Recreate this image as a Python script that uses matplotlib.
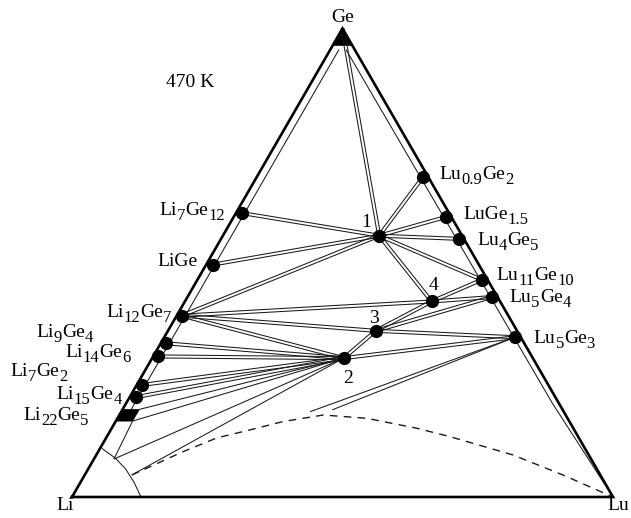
import re
import numpy as np
import matplotlib.pyplot as plt

plt.rcParams['font.family'] = ['Liberation Serif', 'DejaVu Serif']

# Li-Lu-Ge isothermal section at 470 K
# compositions as atomic fractions of Lu and Ge (Li = rest)
phase_names = ['Ge', 'Li7Ge12', 'LiGe', 'Li12Ge7', 'Li9Ge4', 'Li14Ge6', 'Li7Ge2', 'Li15Ge4',
               'Lu0.9Ge2', 'LuGe1.5', 'Lu4Ge5', 'Lu11Ge10', 'Lu5Ge4', 'Lu5Ge3',
               '1', '2', '3', '4']
phase_lu = [0.0, 0.011, 0.012, 0.009, 0.010, 0.0095, 0.009, 0.011,
            0.307, 0.393, 0.440, 0.5255, 0.5624, 0.648,
            0.289, 0.354, 0.384, 0.456]
phase_ge = [1.0, 0.606, 0.496, 0.387, 0.328, 0.300, 0.239, 0.213,
            0.682, 0.598, 0.551, 0.4637, 0.4267, 0.341,
            0.5577, 0.2964, 0.3547, 0.4173]

# Li22Ge5 homogeneity range (drawn as a filled block)
li22ge5_lu = [0.0, 0.031, 0.031, 0.0]
li22ge5_ge = [0.162, 0.162, 0.187, 0.187]

# extra end points of single tie lines
extra_names = ['Li22Ge5 top', 'Li22Ge5 bottom', 'arc A', 'arc B', 'curve A', 'curve B']
extra_lu = [0.031, 0.031, 0.037, 0.087, 0.349, 0.388]
extra_ge = [0.187, 0.162, 0.081, 0.047, 0.182, 0.186]

# two-phase fields drawn as double lines
double_ties = [('Ge', '1'), ('1', 'Lu0.9Ge2'), ('1', 'LuGe1.5'), ('1', 'Lu4Ge5'),
               ('1', 'Lu11Ge10'), ('1', '4'), ('1', 'Li7Ge12'), ('1', 'LiGe'),
               ('1', 'Li12Ge7'), ('4', 'Lu11Ge10'), ('4', 'Lu5Ge4'), ('4', '3'),
               ('4', 'Li12Ge7'), ('3', 'Lu5Ge4'), ('3', 'Lu5Ge3'), ('3', '2'),
               ('3', 'Li12Ge7'), ('2', 'Lu5Ge3'), ('2', 'Li12Ge7'), ('2', 'Li9Ge4'),
               ('2', 'Li14Ge6'), ('2', 'Li7Ge2'), ('2', 'Li15Ge4')]
single_ties = [('2', 'Li22Ge5 top'), ('2', 'Li22Ge5 bottom'), ('2', 'arc A'), ('2', 'arc B'),
               ('Lu5Ge3', 'curve A'), ('Lu5Ge3', 'curve B')]

# solubility lines along the binary edges
left_inner_lu = [0.016, 0.016]
left_inner_ge = [0.955, 0.187]
left_low_lu = [0.031, 0.037]
left_low_ge = [0.162, 0.081]
right_inner_lu = [0.029, 0.788, 1.0]
right_inner_ge = [0.955, 0.200, 0.0]

# boundary of the Li solid solution
arc_lu = [0.003, 0.039, 0.069, 0.099, 0.1275]
arc_ge = [0.104, 0.0827, 0.060, 0.0314, 0.0]

# dashed boundary
dash_lu = [0.087, 0.112, 0.157, 0.2045, 0.2574, 0.3095, 0.377, 0.4606, 0.5638,
           0.6343, 0.7703, 0.884, 0.995]
dash_ge = [0.047, 0.0647, 0.0968, 0.126, 0.1432, 0.161, 0.175, 0.168, 0.1468,
           0.1288, 0.0897, 0.047, 0.002]

# apex region of Ge
ge_tip_lu = [0.0, 0.0, 0.037]
ge_tip_ge = [1.0, 0.963, 0.963]

# label offsets in pixels from the point (x right, y up of the baseline), and alignment
label_pos = {
    'Li7Ge12': (-17, -2, 'right'), 'LiGe': (-15, -1, 'right'),
    'Li12Ge7': (-10, -1, 'right'), 'Li9Ge4': (-73, 6, 'right'),
    'Li14Ge6': (-28, -1, 'right'), 'Li7Ge2': (-74, 9, 'right'),
    'Li15Ge4': (-14, -2, 'right'),
    'Lu0.9Ge2': (17, -2, 'left'), 'LuGe1.5': (17, -2, 'left'),
    'Lu4Ge5': (18, -6, 'left'), 'Lu11Ge10': (15, 0, 'left'),
    'Lu5Ge4': (18, -5, 'left'), 'Lu5Ge3': (19, -6, 'left'),
    '1': (-13, 9, 'center'), '2': (4, -25, 'center'),
    '3': (-2, 8, 'center'), '4': (2, 11, 'center'),
}

H = np.sqrt(3) / 2


def tern(lu, ge):
    lu = np.asarray(lu, float)
    ge = np.asarray(ge, float)
    return lu + ge / 2, ge * H


pts = {n: tern(a, b) for n, a, b in zip(phase_names, phase_lu, phase_ge)}
pts.update({n: tern(a, b) for n, a, b in zip(extra_names, extra_lu, extra_ge)})

fig = plt.figure(figsize=(6.31, 5.18), dpi=100)
ax = fig.add_axes([0, 0, 1, 1])
ax.set_xlim(-72 / 541, 559 / 541)
ax.set_ylim(-21 / 541, 497 / 541)
ax.set_aspect('equal')
ax.axis('off')
renderer = fig.canvas.get_renderer()

fs = 14
sub_fs = 12
sub_drop = 5


def chem_label(name, xy, dx, dy, ha):
    # formula text with lowered digits, built piece by piece
    if name.isdigit():
        parts = [(name, False)]
    else:
        parts = [(m.group(0), m.group(0)[0].isdigit() or m.group(0)[0] == '.')
                 for m in re.finditer(r'[A-Za-z]+|[0-9.]+', name)]
    widths = []
    for s, sub in parts:
        t = ax.text(0, 0, s, fontsize=sub_fs if sub else fs)
        widths.append(t.get_window_extent(renderer).width)
        t.remove()
    total = sum(widths)
    x = dx - {'left': 0, 'right': total, 'center': total / 2}[ha]
    for (s, sub), w in zip(parts, widths):
        ax.annotate(s, xy, xytext=(x, dy - (sub_drop if sub else 0)),
                    textcoords='offset pixels', ha='left', va='baseline',
                    fontsize=sub_fs if sub else fs)
        x += w


thin = dict(color='0.1', lw=0.75, solid_capstyle='butt')
gap = 1.5 / 541

for a, b in double_ties:
    (x0, y0), (x1, y1) = pts[a], pts[b]
    d = np.hypot(x1 - x0, y1 - y0)
    nx, ny = -(y1 - y0) / d * gap, (x1 - x0) / d * gap
    for s in (-1, 1):
        ax.plot([x0 + s * nx, x1 + s * nx], [y0 + s * ny, y1 + s * ny], **thin)

for a, b in single_ties:
    (x0, y0), (x1, y1) = pts[a], pts[b]
    ax.plot([x0, x1], [y0, y1], **thin)

ax.plot(*tern(left_inner_lu, left_inner_ge), **thin)
ax.plot(*tern(left_low_lu, left_low_ge), **thin)
ax.plot(*tern(right_inner_lu, right_inner_ge), **thin)
ax.plot(*tern(arc_lu, arc_ge), **thin)
ax.plot(*tern(dash_lu, dash_ge), color='0.1', lw=1.0, ls=(0, (5.5, 4.5)))

# frame
fx, fy = tern([0, 1, 0, 0], [0, 0, 1, 0])
ax.plot(fx, fy, color='black', lw=1.9, solid_joinstyle='miter')
ax.fill(*tern(ge_tip_lu, ge_tip_ge), color='black', lw=0)
ax.fill(*tern(li22ge5_lu, li22ge5_ge), color='black', lw=0.5, ec='black')

# phases
for n in phase_names[1:]:
    ax.plot(*pts[n], 'o', color='black', ms=8.5)

for n, (dx, dy, ha) in label_pos.items():
    chem_label(n, pts[n], dx, dy, ha)
chem_label('Li22Ge5', tern(0.015, 0.175), -39, -5, 'right')

ax.annotate('Ge', tern(0, 1), xytext=(0, 6), textcoords='offset pixels',
            ha='center', va='baseline', fontsize=fs)
ax.annotate('Li', tern(0, 0), xytext=(-7, -13), textcoords='offset pixels',
            ha='center', va='baseline', fontsize=fs)
ax.annotate('Lu', tern(1, 0), xytext=(5, -13), textcoords='offset pixels',
            ha='center', va='baseline', fontsize=fs)
ax.text(0.301, 0.833, '470 K', transform=ax.transAxes, ha='center', va='baseline',
        fontsize=fs)

fig.savefig('out.png', dpi=100)
